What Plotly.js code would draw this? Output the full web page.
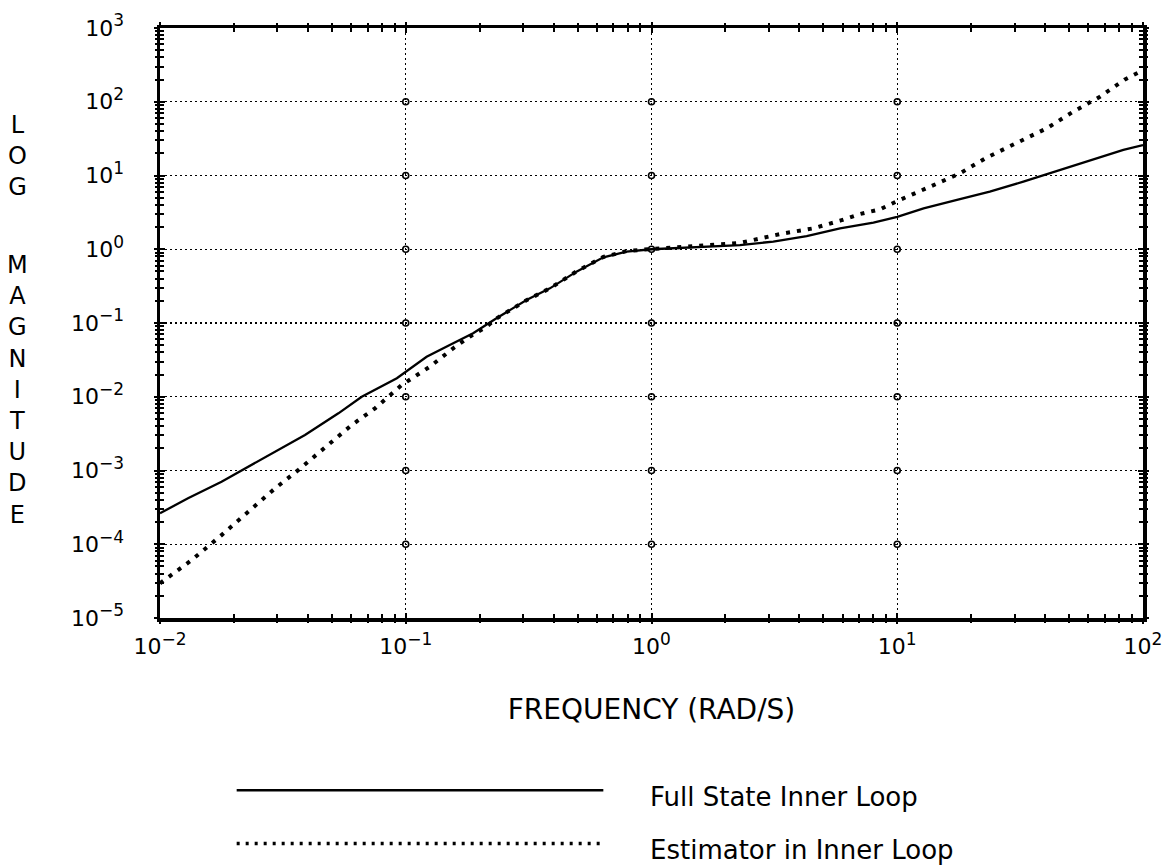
<!DOCTYPE html>
<html>
<head>
<meta charset="utf-8">
<script src="https://cdn.plot.ly/plotly-3.0.1.min.js"></script>
<style>
  html, body { margin: 0; padding: 0; background: #fff; }
  #plot { width: 1163px; height: 865px; }
</style>
</head>
<body>
<div id="plot"></div>
<script>
// Frequency response magnitudes (rad/s vs. magnitude)
const fullStateFreq = [0.01, 0.0130, 0.0178, 0.0222, 0.0285, 0.0389, 0.0532, 0.0662, 0.092,
  0.1216, 0.151, 0.188, 0.234, 0.31, 0.386, 0.495, 0.637, 0.792, 1.0,
  1.574, 2.29, 3.13, 4.28, 5.85, 8.0, 10.0, 12.8, 17.5, 23.8, 32.6, 44.6, 60.8, 83.2, 100];
const fullStateMag = [2.63e-4, 4.2e-4, 7.05e-4, 1.07e-3, 1.71e-3, 3.03e-3, 5.96e-3, 0.0100, 0.0178,
  0.0349, 0.0504, 0.0724, 0.116, 0.205, 0.295, 0.497, 0.778, 0.927, 1.0,
  1.084, 1.14, 1.27, 1.51, 1.92, 2.29, 2.75, 3.59, 4.66, 6.03, 8.24, 11.5, 16.2, 22.2, 25.9];

const estimatorFreq = [0.01, 0.01346, 0.0178, 0.0222, 0.0294, 0.0366, 0.0455, 0.0603, 0.075, 0.0962,
  0.1256, 0.156, 0.182, 0.213, 0.234, 0.31, 0.386, 0.495, 0.637, 0.792, 1.0,
  1.574, 2.29, 3.44, 4.55, 5.85, 7.05, 8.51, 10.1, 13.6, 18.0, 23.1, 30.6, 40.6, 52.0, 66.8, 84.5, 96.0];
const estimatorMag = [2.95e-5, 6.1e-5, 1.33e-4, 2.49e-4, 5.73e-4, 1.02e-3, 1.9e-3, 4.14e-3, 6.97e-3, 0.0144,
  0.0257, 0.0454, 0.0652, 0.089, 0.115, 0.204, 0.295, 0.50, 0.785, 0.944, 1.01,
  1.12, 1.22, 1.64, 1.92, 2.44, 3.0, 3.48, 4.57, 7.05, 10.7, 17.5, 27.9, 43.7, 73.3, 117, 201, 250];

const seriesNames = ['Full State Inner Loop', 'Estimator in Inner Loop'];

// Decade ticks
const xTickVals = [0.01, 0.1, 1, 10, 100];
const xTickExp = ['−2', '−1', '0', '1', '2'];
const yTickVals = [1e-5, 1e-4, 1e-3, 1e-2, 1e-1, 1, 10, 100, 1000];
const yTickExp = ['−5', '−4', '−3', '−2', '−1', '0', '1', '2', '3'];

const xTitle = 'FREQUENCY (RAD/S)';
const yTitleWords = ['LOG', 'MAGNITUDE'];

const FONT = 'DejaVu Sans, sans-serif';

const solidStyle = { color: '#000', width: 2.3 };
const dottedStyle = { color: '#000', width: 4, dash: '4px,7px' };

// "10" with a large superscript exponent
function powerLabel(e) {
  return '10<sup><span style="font-size:17px">' + e + '</span></sup>';
}

// small open circles where interior grid lines cross
const crossX = [], crossY = [];
xTickVals.slice(1, -1).forEach(function (xv) {
  yTickVals.slice(1, -1).forEach(function (yv) { crossX.push(xv); crossY.push(yv); });
});

const traces = [
  { x: fullStateFreq, y: fullStateMag, name: seriesNames[0], mode: 'lines', line: solidStyle },
  { x: estimatorFreq, y: estimatorMag, name: seriesNames[1], mode: 'lines', line: dottedStyle },
  {
    x: crossX, y: crossY, xaxis: 'x2', yaxis: 'y2',
    mode: 'markers', hoverinfo: 'skip',
    marker: { symbol: 'circle-open', size: 6, color: '#000', line: { width: 1.6, color: '#000' } }
  }
];

const baseAxis = {
  type: 'log', showline: true, linecolor: '#000', linewidth: 3.5, mirror: 'allticks',
  ticks: 'inside', ticklen: 5, tickwidth: 2, tickcolor: '#000',
  minor: { ticks: 'inside', ticklen: 4, tickwidth: 2, tickcolor: '#000', dtick: 'D1', showgrid: false },
  showgrid: true, gridcolor: '#000', gridwidth: 1.4, griddash: '2px,3px',
  zeroline: false, fixedrange: true,
  tickfont: { family: FONT, size: 22, color: '#000' }
};

// outward half of the crossing tick marks
const overlayAxis = {
  type: 'log', showgrid: false, zeroline: false, showline: false,
  showticklabels: false, ticks: 'outside', ticklen: 5, tickwidth: 2, tickcolor: '#000',
  tickmode: 'array', mirror: 'allticks', fixedrange: true,
  minor: { ticks: 'outside', ticklen: 4, tickwidth: 2, tickcolor: '#000', dtick: 'D1', showgrid: false }
};

// key below the plot: line sample + label
const keyLeft = 0.078, keyRight = 0.451, keyText = 0.496;
const keyRows = [-0.292, -0.382];
const shapes = [solidStyle, dottedStyle].map(function (st, i) {
  return {
    type: 'line', xref: 'paper', yref: 'paper',
    x0: keyLeft, x1: keyRight, y0: keyRows[i], y1: keyRows[i],
    line: i === 0 ? { color: '#000', width: 2.5 } : { color: '#000', width: 3.5, dash: '3px,6px' }
  };
});
const keyLabels = seriesNames.map(function (name, i) {
  return {
    xref: 'paper', yref: 'paper', x: keyText, y: keyRows[i] - 0.012,
    xanchor: 'left', yanchor: 'middle', text: name, showarrow: false,
    font: { family: FONT, size: 26, color: '#000' }
  };
});

const yTitleTops = [0.863, 0.625];
const yTitles = yTitleWords.map(function (w, i) {
  return {
    xref: 'paper', yref: 'paper', x: -0.145, y: yTitleTops[i], xanchor: 'center', yanchor: 'top',
    text: w.split('').join('<br>'), showarrow: false, align: 'center',
    font: { family: FONT, size: 24, color: '#000' }
  };
});

const layout = {
  width: 1163, height: 865,
  margin: { l: 160, r: 20, t: 28, b: 247 },
  paper_bgcolor: '#fff', plot_bgcolor: '#fff',
  font: { family: FONT, color: '#000' },
  showlegend: false,
  xaxis: Object.assign({}, baseAxis, {
    range: [-2, 2], tickmode: 'array', tickvals: xTickVals, ticktext: xTickExp.map(powerLabel),
    ticklabelstandoff: 6,
    title: { text: xTitle, font: { family: FONT, size: 28, color: '#000' }, standoff: 42 }
  }),
  yaxis: Object.assign({}, baseAxis, {
    range: [-5, 3], tickmode: 'array', tickvals: yTickVals, ticktext: yTickExp.map(powerLabel),
    ticklabelstandoff: 28
  }),
  xaxis2: Object.assign({}, overlayAxis, { range: [-2, 2], overlaying: 'x', anchor: 'y2', tickvals: xTickVals }),
  yaxis2: Object.assign({}, overlayAxis, { range: [-5, 3], overlaying: 'y', anchor: 'x2', tickvals: yTickVals }),
  shapes: shapes,
  annotations: yTitles.concat(keyLabels)
};

Plotly.newPlot('plot', traces, layout, { displayModeBar: false, staticPlot: true });
</script>
</body>
</html>
